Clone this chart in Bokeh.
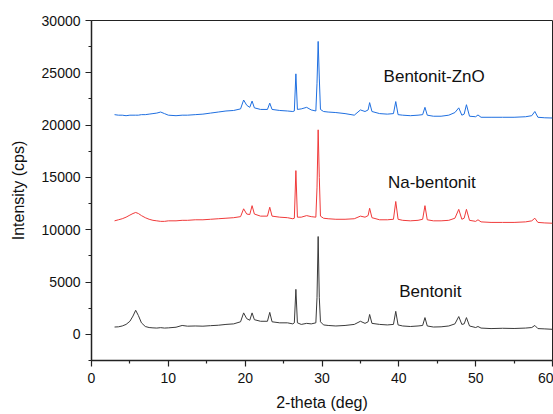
from bokeh.plotting import figure
from bokeh.models import Range1d, FixedTicker, Label
from bokeh.embed import file_html
from bokeh.resources import INLINE

# 2-theta grid (deg)
two_theta = [3.0, 3.5, 4.0, 4.5, 5.0, 5.4, 5.75, 6.1, 6.5, 7.0,
             7.5, 8.0, 8.5, 9.0, 9.5, 10.0, 11.0, 11.8, 12.5, 13.5,
             14.5, 15.5, 16.5, 17.5, 18.5, 19.4, 19.8, 20.2, 20.6, 20.9,
             21.2, 22.0, 22.9, 23.2, 23.5, 24.5, 25.5, 26.2, 26.4, 26.6,
             26.8, 27.3, 28.0, 28.6, 29.2, 29.35, 29.5, 29.65, 29.8, 30.2,
             30.8, 31.8, 33.0, 34.2, 35.0, 35.6, 36.0, 36.2, 36.5, 37.5,
             38.5, 39.3, 39.6, 39.9, 40.5, 41.5, 42.5, 43.1, 43.4, 43.7,
             44.5, 45.5, 46.5, 47.3, 47.8, 48.2, 48.5, 48.8, 49.2, 50.0,
             50.3, 50.7, 52.0, 53.5, 55.0, 56.5, 57.3, 57.7, 58.1, 59.0,
             60.0]

bentonit = [700, 720, 800, 950, 1250, 1750, 2300, 1800, 1100, 750,
            650, 620, 600, 640, 600, 620, 680, 850, 780, 800,
            780, 830, 870, 950, 1000, 1200, 2050, 1500, 1350, 2050,
            1400, 1250, 1250, 2100, 1200, 1100, 1100, 1000, 1100, 4300,
            1100, 950, 1050, 1000, 1100, 3500, 9350, 3500, 1200, 900,
            850, 800, 850, 950, 1250, 1050, 1200, 1900, 1050, 950,
            900, 950, 2200, 900, 800, 750, 800, 850, 1600, 800,
            700, 720, 800, 1000, 1700, 950, 1000, 1600, 800, 650,
            750, 600, 550, 580, 560, 600, 650, 850, 550, 520,
            480]

na_bentonit = [10850, 10950, 11050, 11200, 11400, 11550, 11650, 11550, 11350, 11150,
               11000, 10900, 10850, 10800, 10800, 10850, 10850, 10900, 10900, 10950,
               10950, 11000, 11050, 11100, 11150, 11250, 12000, 11500, 11450, 12300,
               11500, 11300, 11300, 12150, 11300, 11200, 11150, 11050, 11100, 15650,
               11200, 11200, 11350, 11250, 11200, 14000, 19550, 15000, 11300, 11100,
               11050, 11000, 11000, 11050, 11300, 11200, 11350, 12050, 11150, 10950,
               10950, 11000, 12700, 11000, 10900, 10850, 10900, 11000, 12300, 10950,
               10850, 10850, 10900, 11100, 11950, 11000, 11100, 11950, 10900, 10800,
               10950, 10750, 10700, 10700, 10700, 10750, 10850, 11100, 10700, 10650,
               10620]

bentonit_zno = [21000, 20950, 20950, 20900, 20950, 20950, 20950, 20950, 21000, 21000,
                21050, 21100, 21150, 21250, 21100, 20950, 20900, 20950, 20950, 21000,
                21050, 21150, 21250, 21350, 21400, 21550, 22400, 21900, 21700, 22300,
                21650, 21500, 21500, 22100, 21500, 21400, 21350, 21300, 21350, 24900,
                21500, 21550, 21700, 21450, 21350, 24000, 28000, 24500, 21500, 21300,
                21250, 21200, 21100, 20950, 21450, 21300, 21450, 22150, 21300, 21100,
                21050, 21100, 22250, 21000, 20950, 20900, 20950, 21000, 21700, 20950,
                20850, 20850, 20950, 21200, 21650, 20950, 21050, 21950, 20850, 20800,
                20970, 20750, 20750, 20750, 20750, 20800, 20900, 21300, 20750, 20700,
                20680]

series_names = ["Bentonit", "Na-bentonit", "Bentonit-ZnO"]
series_colors = ["#3a3a3a", "#f03a3a", "#1f6fe0"]
label_x = [44.1, 44.3, 44.6]
label_y = [4100, 14500, 24640]

x_ticks = [0, 10, 20, 30, 40, 50, 60]
y_ticks = [0, 5000, 10000, 15000, 20000, 25000, 30000]

FONT = "Liberation Sans"

p = figure(width=553, height=414, output_backend="svg", toolbar_location=None,
           x_range=Range1d(0, 60), y_range=Range1d(-2500, 30000),
           min_border_left=91, min_border_top=20, min_border_bottom=54,
           min_border_right=1)

for ys, c in zip([bentonit, na_bentonit, bentonit_zno], series_colors):
    p.line(two_theta, ys, line_color=c, line_width=1)

for name, lx, ly in zip(series_names, label_x, label_y):
    p.add_layout(Label(x=lx, y=ly, text=name, text_align="center",
                       text_baseline="middle", text_font=FONT,
                       text_font_size="17px", text_color="#111111"))

p.grid.visible = False
p.outline_line_color = "#222222"
p.outline_line_width = 1

p.xaxis.ticker = FixedTicker(ticks=x_ticks, minor_ticks=[5, 15, 25, 35, 45, 55])
p.yaxis.ticker = FixedTicker(ticks=y_ticks,
                             minor_ticks=[-2500, 2500, 7500, 12500, 17500, 22500, 27500])
p.yaxis.formatter.use_scientific = False

for ax in [p.xaxis, p.yaxis]:
    ax.axis_line_width = 1.5
    ax.axis_line_color = "#222222"
    ax.major_tick_line_color = "#222222"
    ax.minor_tick_line_color = "#222222"
    ax.major_tick_line_width = 1.2
    ax.minor_tick_line_width = 1.2
    ax.major_tick_out = 6
    ax.major_tick_in = 0
    ax.minor_tick_out = 3
    ax.minor_tick_in = 0
    ax.major_label_text_font = FONT
    ax.major_label_text_font_size = "14px"
    ax.major_label_text_color = "#111111"
    ax.axis_label_text_font = FONT
    ax.axis_label_text_font_size = "16px"
    ax.axis_label_text_font_style = "normal"
    ax.axis_label_text_color = "#111111"

p.xaxis.axis_label = "2-theta (deg)"
p.yaxis.axis_label = "Intensity (cps)"
p.xaxis.major_label_standoff = 6
p.xaxis.axis_label_standoff = 8
p.yaxis.major_label_standoff = 5
p.yaxis.axis_label_standoff = 12

open("out.html", "w").write(file_html(p, INLINE))
